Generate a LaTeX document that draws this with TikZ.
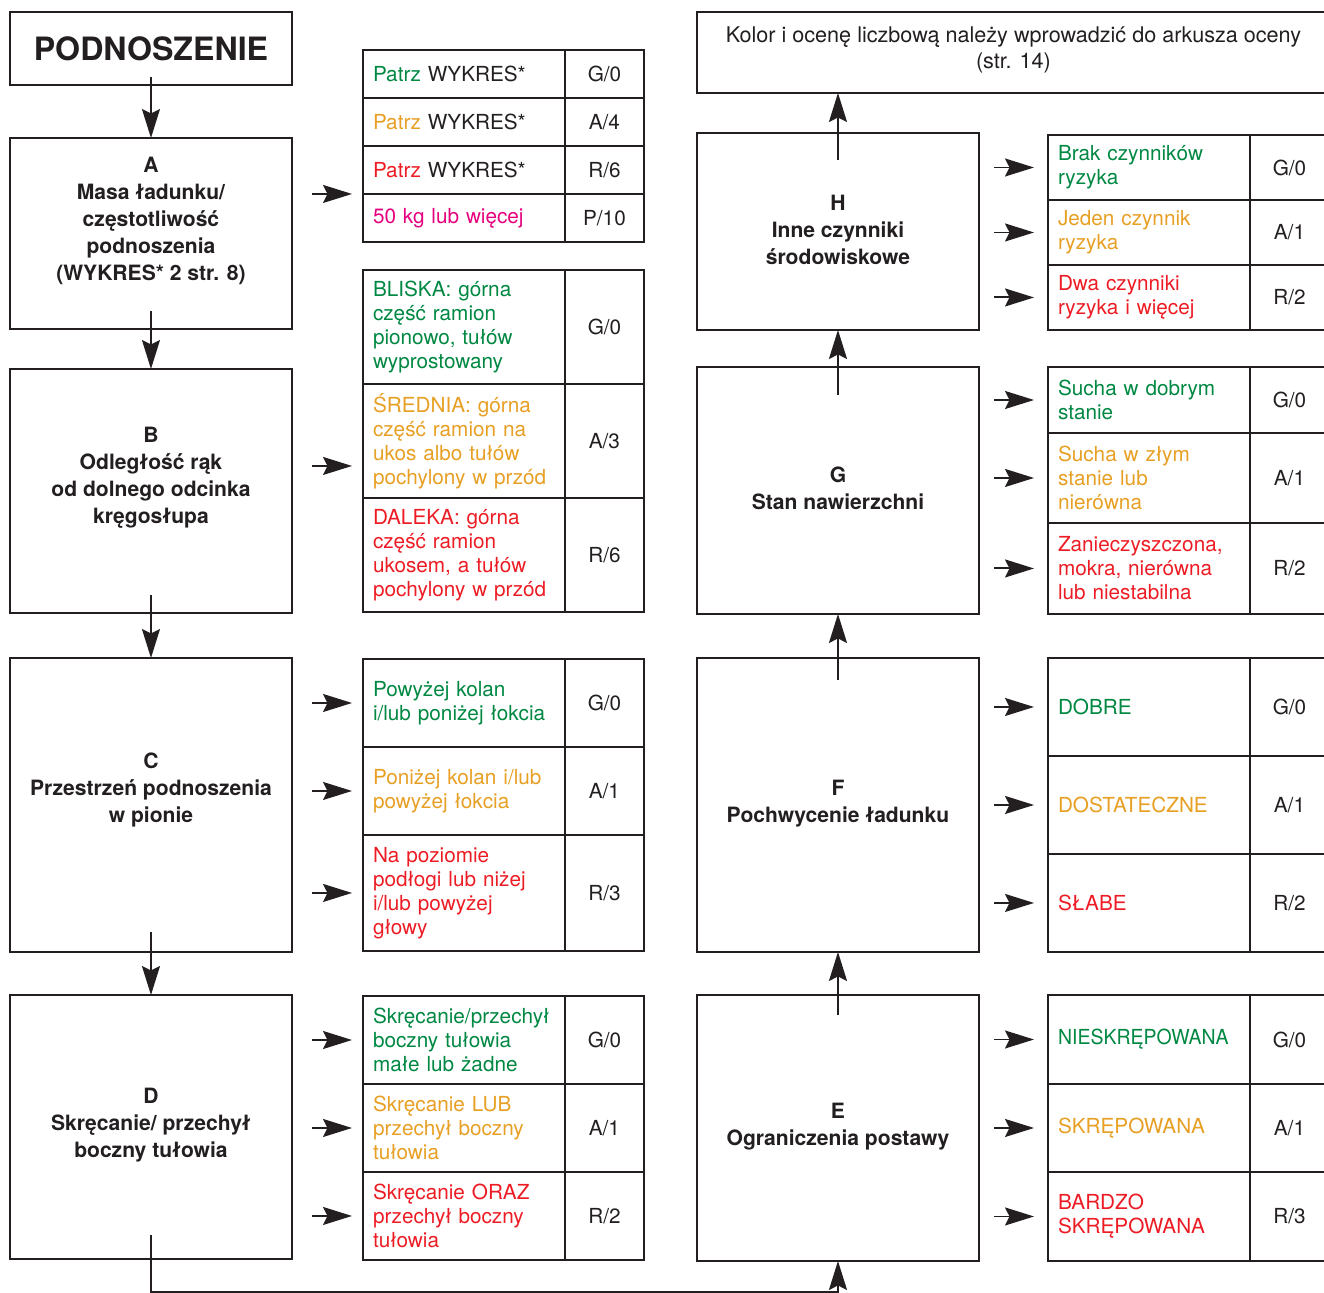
\documentclass[tikz,border=0pt]{standalone}
\usepackage{fontspec}
\setmainfont{TeX Gyre Heros}
\usetikzlibrary{arrows.meta}
\definecolor{ink}{RGB}{35,31,32}
\definecolor{okgreen}{RGB}{0,136,66}
\definecolor{amber}{RGB}{231,159,36}
\definecolor{alarm}{RGB}{237,28,36}
\definecolor{heavy}{RGB}{230,0,126}
\begin{document}
\begin{tikzpicture}[x=0.02cm, y=-0.02cm,
	every node/.style={text=ink},
	stepbox/.style={draw=ink, line width=1.3pt, anchor=north west, minimum width=5.64cm, inner sep=0pt, outer sep=0pt},
	steptext/.style={align=center, font=\bfseries\fontsize{12}{15.4}\selectfont},
	cell/.style={draw=ink, line width=1.3pt, anchor=north west, text width=3.64cm, inner xsep=0.2cm, inner ysep=0pt, outer sep=0pt, align=left, font=\fontsize{11.8}{13.7}\selectfont},
	score/.style={draw=ink, line width=1.3pt, anchor=north west, minimum width=1.58cm, inner sep=0pt, outer sep=0pt, font=\fontsize{11.8}{13.7}\selectfont},
	arr/.style={draw=ink, line width=1.1pt, -{Stealth[length=0.58cm, width=0.36cm, inset=0.09cm]}}]

	\useasboundingbox (0,0) rectangle (1324,1293);
	\clip (0,0) rectangle (1324,1293);

		% left column
		\node[stepbox, minimum height=1.46cm] (lift) at (10,12) {};
		\node[font=\bfseries\fontsize{18.3}{20}\selectfont] (lifttxt) at (lift.center) {PODNOSZENIE};
		\node[stepbox, minimum height=3.82cm] (A) at (10,138) {};
		\node[steptext] (Atxt) at ([yshift=0.25cm]A.center) {A\\Masa ładunku/\\częstotliwość\\podnoszenia\\(WYKRES* 2 str. 8)};
		\node[stepbox, minimum height=4.88cm] (B) at (10,369) {};
		\node[steptext] (Btxt) at ([yshift=0.27cm]B.center) {B\\Odległość rąk\\od dolnego odcinka\\kręgosłupa};
		\node[stepbox, minimum height=5.88cm] (C) at (10,658) {};
		\node[steptext] (Ctxt) at ([yshift=0.3cm]C.center) {C\\Przestrzeń podnoszenia\\w pionie};
		\node[stepbox, minimum height=5.28cm] (D) at (10,995) {};
		\node[steptext] (Dtxt) at ([yshift=0.04cm]D.center) {D\\Skręcanie/ przechył\\boczny tułowia};

		% right column
		\node[stepbox, minimum width=12.66cm, minimum height=1.62cm] (result) at (697,12) {};
		\node[align=center, font=\fontsize{12.3}{14.8}\selectfont] (resulttxt) at ([yshift=0.06cm]result.center) {Kolor i ocenę liczbową należy wprowadzić do arkusza oceny\\(str. 14)};
		\node[stepbox, minimum height=3.94cm] (H) at (697,133) {};
		\node[steptext] (Htxt) at ([yshift=0.04cm]H.center) {H\\Inne czynniki\\środowiskowe};
		\node[stepbox, minimum height=4.94cm] (G) at (697,367) {};
		\node[steptext] (Gtxt) at ([yshift=0.04cm]G.center) {G\\Stan nawierzchni};
		\node[stepbox, minimum height=5.88cm] (F) at (697,658) {};
		\node[steptext] (Ftxt) at ([yshift=0.02cm]F.center) {F\\Pochwycenie ładunku};
		\node[stepbox, minimum height=5.32cm] (E) at (697,995) {};
		\node[steptext] (Etxt) at ([yshift=0.02cm]E.center) {E\\Ograniczenia postawy};

		% table A
		\node[cell, minimum height=0.96cm] (a1) at (363,50) {{\color{okgreen}Patrz} WYKRES*};
		\node[score, minimum height=0.96cm] (a1v) at (a1.north east) {G/0};
		\node[cell, minimum height=0.96cm] (a2) at (a1.south west) {{\color{amber}Patrz} WYKRES*};
		\node[score, minimum height=0.96cm] (a2v) at (a2.north east) {A/4};
		\node[cell, minimum height=0.96cm] (a3) at (a2.south west) {{\color{alarm}Patrz} WYKRES*};
		\node[score, minimum height=0.96cm] (a3v) at (a3.north east) {R/6};
		\node[cell, minimum height=0.96cm, text=heavy] (a4) at (a3.south west) {50 kg lub więcej};
		\node[score, minimum height=0.96cm] (a4v) at (a4.north east) {P/10};

		% table B
		\node[cell, minimum height=2.28cm, text=okgreen] (b1) at (363,270) {BLISKA: górna\\część ramion\\pionowo, tułów\\wyprostowany};
		\node[score, minimum height=2.28cm] (b1v) at (b1.north east) {G/0};
		\node[cell, minimum height=2.28cm, text=amber] (b2) at (b1.south west) {ŚREDNIA: górna\\część ramion na\\ukos albo tułów\\pochylony w przód};
		\node[score, minimum height=2.28cm] (b2v) at (b2.north east) {A/3};
		\node[cell, minimum height=2.28cm, text=alarm] (b3) at (b2.south west) {DALEKA: górna\\część ramion\\ukosem, a tułów\\pochylony w przód};
		\node[score, minimum height=2.28cm] (b3v) at (b3.north east) {R/6};

		% table C
		\node[cell, minimum height=1.76cm, text=okgreen] (c1) at (363,659) {Powyżej kolan\\i/lub poniżej łokcia};
		\node[score, minimum height=1.76cm] (c1v) at (c1.north east) {G/0};
		\node[cell, minimum height=1.76cm, text=amber] (c2) at (c1.south west) {Poniżej kolan i/lub\\powyżej łokcia};
		\node[score, minimum height=1.76cm] (c2v) at (c2.north east) {A/1};
		\node[cell, minimum height=2.32cm, text=alarm] (c3) at (c2.south west) {Na poziomie\\podłogi lub niżej\\i/lub powyżej\\głowy};
		\node[score, minimum height=2.32cm] (c3v) at (c3.north east) {R/3};

		% table D
		\node[cell, minimum height=1.76cm, text=okgreen] (d1) at (363,996) {Skręcanie/przechył\\boczny tułowia\\małe lub żadne};
		\node[score, minimum height=1.76cm] (d1v) at (d1.north east) {G/0};
		\node[cell, minimum height=1.76cm, text=amber] (d2) at (d1.south west) {Skręcanie LUB\\przechył boczny\\tułowia};
		\node[score, minimum height=1.76cm] (d2v) at (d2.north east) {A/1};
		\node[cell, minimum height=1.76cm, text=alarm] (d3) at (d2.south west) {Skręcanie ORAZ\\przechył boczny\\tułowia};
		\node[score, minimum height=1.76cm] (d3v) at (d3.north east) {R/2};

		% table H
		\node[cell, minimum height=1.30cm, text=okgreen] (h1) at (1048,135) {Brak czynników\\ryzyka};
		\node[score, minimum height=1.30cm] (h1v) at (h1.north east) {G/0};
		\node[cell, minimum height=1.30cm, text=amber] (h2) at (h1.south west) {Jeden czynnik\\ryzyka};
		\node[score, minimum height=1.30cm] (h2v) at (h2.north east) {A/1};
		\node[cell, minimum height=1.30cm, text=alarm] (h3) at (h2.south west) {Dwa czynniki\\ryzyka i więcej};
		\node[score, minimum height=1.30cm] (h3v) at (h3.north east) {R/2};

		% table G
		\node[cell, minimum height=1.32cm, text=okgreen] (g1) at (1048,367) {Sucha w dobrym\\stanie};
		\node[score, minimum height=1.32cm] (g1v) at (g1.north east) {G/0};
		\node[cell, minimum height=1.80cm, text=amber] (g2) at (g1.south west) {Sucha w złym\\stanie lub\\nierówna};
		\node[score, minimum height=1.80cm] (g2v) at (g2.north east) {A/1};
		\node[cell, minimum height=1.82cm, text=alarm] (g3) at (g2.south west) {Zanieczyszczona,\\mokra, nierówna\\lub niestabilna};
		\node[score, minimum height=1.82cm] (g3v) at (g3.north east) {R/2};

		% table F
		\node[cell, minimum height=1.96cm, text=okgreen] (f1) at (1048,658) {DOBRE};
		\node[score, minimum height=1.96cm] (f1v) at (f1.north east) {G/0};
		\node[cell, minimum height=1.96cm, text=amber] (f2) at (f1.south west) {DOSTATECZNE};
		\node[score, minimum height=1.96cm] (f2v) at (f2.north east) {A/1};
		\node[cell, minimum height=1.96cm, text=alarm] (f3) at (f2.south west) {SŁABE};
		\node[score, minimum height=1.96cm] (f3v) at (f3.north east) {R/2};

		% table E
		\node[cell, minimum height=1.78cm, text=okgreen] (e1) at (1048,995) {\scalebox{0.94}[1]{NIESKRĘPOWANA}};
		\node[score, minimum height=1.78cm] (e1v) at (e1.north east) {G/0};
		\node[cell, minimum height=1.76cm, text=amber] (e2) at (e1.south west) {SKRĘPOWANA};
		\node[score, minimum height=1.76cm] (e2v) at (e2.north east) {A/1};
		\node[cell, minimum height=1.78cm, text=alarm] (e3) at (e2.south west) {BARDZO\\SKRĘPOWANA};
		\node[score, minimum height=1.78cm] (e3v) at (e3.north east) {R/3};

		% flow down the left, across the bottom, up the right
		\draw[arr] ([yshift=0.16cm]lift.south) -- (A.north);
		\draw[arr] ([yshift=0.36cm]A.south) -- (B.north);
		\draw[arr] ([yshift=0.36cm]B.south) -- (C.north);
		\draw[arr] ([yshift=0.4cm]C.south) -- (D.north);
		\draw[arr] ([yshift=0.48cm]D.south) -- (D.south |- 0,1292) -- (E.south |- 0,1292) -- (E.south);
		\draw[arr] ([yshift=-0.4cm]E.north) -- (F.south);
		\draw[arr] ([yshift=-0.44cm]F.north) -- (G.south);
		\draw[arr] ([yshift=-0.56cm]G.north) -- (H.south);
		\draw[arr] ([yshift=-0.54cm]H.north) -- (H.north |- result.south);

		% arrows into the tables
		\draw[arr] ([xshift=-1.02cm]a3.south west) -- ([xshift=-0.22cm]a3.south west);
		\draw[arr] ([xshift=-1.02cm, yshift=-0.5cm]b2.west) -- ([xshift=-0.22cm, yshift=-0.5cm]b2.west);
		\draw[arr] ([xshift=-1.02cm]c1.west) -- ([xshift=-0.22cm]c1.west);
		\draw[arr] ([xshift=-1.02cm]c2.west) -- ([xshift=-0.22cm]c2.west);
		\draw[arr] ([xshift=-1.02cm]c3.west) -- ([xshift=-0.22cm]c3.west);
		\draw[arr] ([xshift=-1.02cm]d1.west) -- ([xshift=-0.22cm]d1.west);
		\draw[arr] ([xshift=-1.02cm]d2.west) -- ([xshift=-0.22cm]d2.west);
		\draw[arr] ([xshift=-1.02cm]d3.west) -- ([xshift=-0.22cm]d3.west);
		\draw[arr] ([xshift=-1.08cm]h1.west) -- ([xshift=-0.28cm]h1.west);
		\draw[arr] ([xshift=-1.08cm]h2.west) -- ([xshift=-0.28cm]h2.west);
		\draw[arr] ([xshift=-1.08cm]h3.west) -- ([xshift=-0.28cm]h3.west);
		\draw[arr] ([xshift=-1.08cm]g1.west) -- ([xshift=-0.28cm]g1.west);
		\draw[arr] ([xshift=-1.08cm]g2.west) -- ([xshift=-0.28cm]g2.west);
		\draw[arr] ([xshift=-1.08cm]g3.west) -- ([xshift=-0.28cm]g3.west);
		\draw[arr] ([xshift=-1.08cm]f1.west) -- ([xshift=-0.28cm]f1.west);
		\draw[arr] ([xshift=-1.08cm]f2.west) -- ([xshift=-0.28cm]f2.west);
		\draw[arr] ([xshift=-1.08cm]f3.west) -- ([xshift=-0.28cm]f3.west);
		\draw[arr] ([xshift=-1.08cm]e1.west) -- ([xshift=-0.28cm]e1.west);
		\draw[arr] ([xshift=-1.08cm]e2.west) -- ([xshift=-0.28cm]e2.west);
		\draw[arr] ([xshift=-1.08cm]e3.west) -- ([xshift=-0.28cm]e3.west);

\end{tikzpicture}
\end{document}
